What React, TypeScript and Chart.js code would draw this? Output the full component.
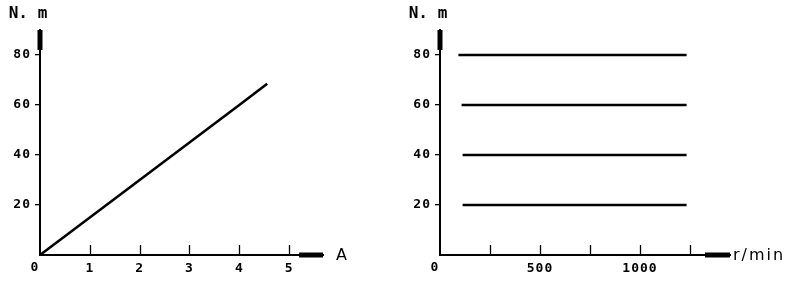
import React, { useEffect, useRef } from 'react';
import { Chart, registerables } from 'chart.js';

Chart.register(...registerables);

// ---- Left panel: torque vs current ----
const currentA = [0, 1, 2, 3, 4, 4.56];
const torqueNm = [0, 15, 30, 45, 60, 68.5];
const leftXMax = 5.68;
const leftXTicks = [1, 2, 3, 4, 5];
const leftXLabels = [1, 2, 3, 4, 5];
const leftXCap = [5.2, 5.68];
const leftXUnit = 'A';

// ---- Right panel: torque vs speed ----
const torqueLevels = [20, 40, 60, 80];
const speedStart = [113, 113, 108, 92];
const speedEnd = [1233, 1233, 1233, 1233];
const rightXMax = 1450;
const rightXTicks = [250, 500, 750, 1000, 1250];
const rightXLabels = [500, 1000];
const rightXCap = [1325, 1450];
const rightXUnit = 'r/min';

// ---- Shared ----
const yMax = 90;
const yTicks = [20, 40, 60, 80];
const yCap = [82, 90];
const yUnit = 'N. m';

const tickFont = { family: '"DejaVu Sans Mono"', size: 13, weight: 'bold' as const };

type PanelProps = {
  lines: { x: number; y: number }[][];
  xMax: number;
  xTicks: number[];
  xLabels: number[];
  xCap: number[];
  xUnit: string;
  xUnitGap: number;
  padRight: number;
};

function Panel({ lines, xMax, xTicks, xLabels, xCap, xUnit, xUnitGap, padRight }: PanelProps) {
  const ref = useRef<HTMLCanvasElement | null>(null);

  useEffect(() => {
    if (!ref.current) return;
    const datasets: any[] = lines.map((pts) => ({
      data: pts,
      showLine: true,
      borderColor: '#000',
      borderWidth: 2.6,
      pointRadius: 0,
      borderCapStyle: 'butt',
      clip: false,
    }));
    // thick axis ends
    datasets.push({
      data: [{ x: 0, y: yCap[0] }, { x: 0, y: yCap[1] }],
      showLine: true, borderColor: '#000', borderWidth: 5, pointRadius: 0, clip: false,
    });
    datasets.push({
      data: [{ x: xCap[0], y: 0 }, { x: xCap[1], y: 0 }],
      showLine: true, borderColor: '#000', borderWidth: 5, pointRadius: 0, clip: false,
    });

    const decor = {
      id: 'decor',
      beforeDraw(chart: any) {
        chart.ctx.letterSpacing = '1px';
      },
      afterDraw(chart: any) {
        const { ctx, chartArea } = chart;
        const x = chart.scales.x;
        ctx.save();
        ctx.letterSpacing = '0px';
        ctx.strokeStyle = '#000';
        ctx.lineWidth = 1.3;
        ctx.beginPath();
        for (const v of xTicks) {
          const px = Math.round(x.getPixelForValue(v)) + 0.5;
          ctx.moveTo(px, chartArea.bottom);
          ctx.lineTo(px, chartArea.bottom - 10);
        }
        ctx.stroke();
        ctx.fillStyle = '#000';
        ctx.letterSpacing = '1px';
        ctx.font = 'bold 13px "DejaVu Sans Mono"';
        ctx.textAlign = 'center';
        ctx.textBaseline = 'middle';
        ctx.fillText('0', x.getPixelForValue(0) - 5, chartArea.bottom + 13);
        ctx.font = 'bold 16px "DejaVu Sans Mono"';
        ctx.letterSpacing = '0px';
        ctx.fillText(yUnit, chartArea.left - 12, chartArea.top - 16);
        ctx.textAlign = 'left';
        ctx.font = '16px "DejaVu Sans"';
        ctx.letterSpacing = xUnit.length > 1 ? '2px' : '0px';
        ctx.fillText(xUnit, chartArea.right + xUnitGap, chartArea.bottom + 1);
        ctx.restore();
      },
    };

    const chart = new Chart(ref.current, {
      type: 'scatter',
      data: { datasets },
      options: {
        animation: false,
        responsive: false,
        events: [],
        layout: { padding: { left: 0, right: padRight, top: 30, bottom: 0 } },
        plugins: { legend: { display: false }, tooltip: { enabled: false } },
        scales: {
          x: {
            type: 'linear',
            min: 0,
            max: xMax,
            afterBuildTicks: (s: any) => { s.ticks = xTicks.map((v) => ({ value: v })); },
            afterFit: (s: any) => { s.height = 30; },
            grid: { display: false, drawTicks: false },
            border: { display: true, color: '#000', width: 2 },
            ticks: {
              color: '#000',
              font: tickFont,
              padding: 6,
              maxRotation: 0,
              autoSkip: false,
              callback: (v: any) => (xLabels.includes(Number(v)) ? String(v) : ''),
            },
          },
          y: {
            type: 'linear',
            min: 0,
            max: yMax,
            afterBuildTicks: (s: any) => { s.ticks = yTicks.map((v) => ({ value: v })); },
            afterFit: (s: any) => { s.width = 40; },
            grid: { drawOnChartArea: false, drawTicks: true, tickLength: 5, color: '#000', lineWidth: 1.3 },
            border: { display: true, color: '#000', width: 2 },
            ticks: {
              color: '#000',
              font: tickFont,
              padding: 4,
              autoSkip: false,
              callback: (v: any) => String(v),
            },
          },
        },
      },
      plugins: [decor],
    } as any);
    return () => chart.destroy();
  }, []);

  return <canvas ref={ref} width={400} height={285} style={{ display: 'block' }} />;
}

export default function App() {
  const leftLines = [currentA.map((c, i) => ({ x: c, y: torqueNm[i] }))];
  const rightLines = torqueLevels.map((t, i) => [
    { x: speedStart[i], y: t },
    { x: speedEnd[i], y: t },
  ]);
  return (
    <div style={{ position: 'absolute', left: 0, top: 0, width: 800, height: 285, background: '#fff', display: 'flex' }}>
      <Panel lines={leftLines} xMax={leftXMax} xTicks={leftXTicks} xLabels={leftXLabels} xCap={leftXCap} xUnit={leftXUnit} xUnitGap={13} padRight={77} />
      <Panel lines={rightLines} xMax={rightXMax} xTicks={rightXTicks} xLabels={rightXLabels} xCap={rightXCap} xUnit={rightXUnit} xUnitGap={3} padRight={70} />
    </div>
  );
}
